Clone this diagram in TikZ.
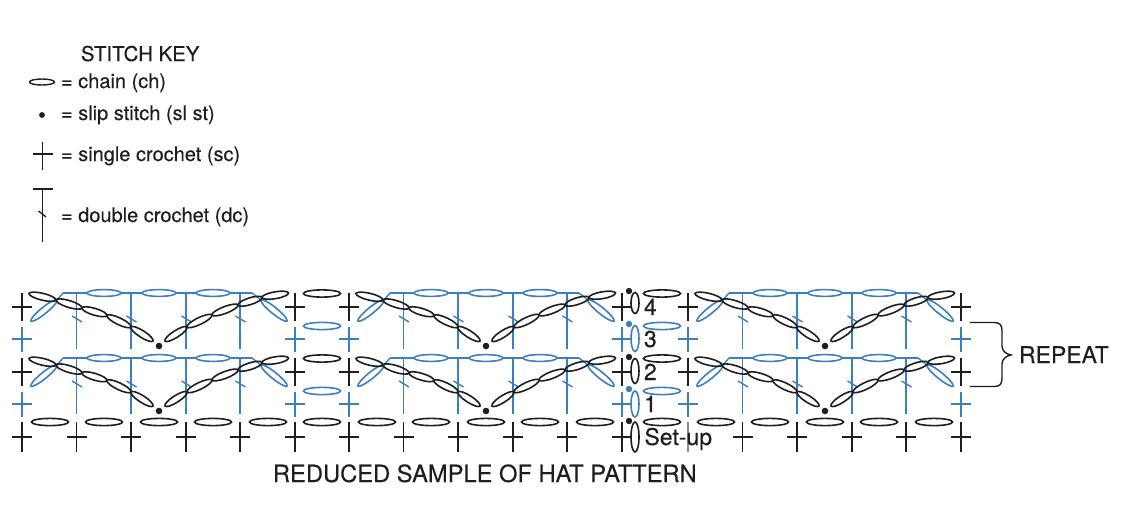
\documentclass[tikz,border=0pt]{standalone}
\usepackage{fontspec}
\setmainfont{TeX Gyre Heros}[UprightFeatures={FakeBold=0.25}]
\definecolor{stitchblue}{HTML}{3B7FBF}
\definecolor{stitchblack}{HTML}{1E1E1E}
\tikzset{
  ink/.style={line width=1.6pt,stitchblack},
  bluink/.style={line width=1.6pt,stitchblue},
  barink/.style={line width=1.4pt,stitchblack},
  barblue/.style={line width=1.4pt,stitchblue},
  greybar/.style={line width=1.2pt,black!45},
  lbl/.style={anchor=base west,inner sep=0pt,outer sep=0pt,text=stitchblack},
  keytext/.style={lbl,font=\fontsize{20}{24}\selectfont},
  headtext/.style={lbl,font=\fontsize{20.4}{24}\selectfont},
  digittext/.style={lbl,font=\fontsize{23}{27}\selectfont},
  rowtext/.style={lbl,font=\fontsize{23}{27}\selectfont},
  titletext/.style={lbl,font=\fontsize{23.7}{28}\selectfont},
}
% cross: style, x, y, half height
\newcommand{\crs}[4]{\draw[#1] (#2,#3-#4) -- (#2,#3+#4) (#2-10,#3) -- (#2+10,#3);}
% oval between two end points: style, x1,y1,x2,y2, half width
\newcommand{\lnk}[6]{%
  \pgfmathsetmacro{\angv}{atan2(-((#5)-(#3)),(#4)-(#2))}%
  \pgfmathsetmacro{\lenv}{0.5*veclen((#4)-(#2),(#5)-(#3))}%
  \draw[#1,shift={({((#2)+(#4))/2},{((#3)+(#5))/2})},rotate=\angv] (0,0) ellipse ({\lenv} and #6);}
% flat oval
\newcommand{\fov}[3]{\draw[#1] (#2,#3) ellipse (18.5 and 3.6);}
% upright oval
\newcommand{\vov}[4]{\draw[#1] (#2,#3) ellipse (4 and #4);}
% one fan motif, y offset #1 from the upper row
\newcommand{\fan}[1]{%
  \foreach \cx in {76.5,131,186,240}{%
    \draw[barblue] (\cx,293+#1) -- (\cx,349+#1);
    \draw[barblue] (\cx-4.5,316+#1) -- (\cx+5.5,322+#1);
  }
  \draw[barblue] (63,293+#1) -- (87,293+#1) (121,293+#1) -- (142,293+#1)
    (176,293+#1) -- (196,293+#1) (230,293+#1) -- (252,293+#1);
  \foreach \cx in {104,159,213}{\draw[bluink] (\cx,293+#1) ellipse (17 and 3.4);}
  \lnk{bluink}{31}{321+#1}{57}{300+#1}{3.2}
  \lnk{bluink}{287}{321+#1}{261}{300+#1}{3.2}
  \draw[barblue] (57,300+#1) -- (63,293+#1);
  \draw[barblue] (261,300+#1) -- (252,293+#1);
  \lnk{ink}{29}{293.5+#1}{56}{300+#1}{3.4}
  \lnk{ink}{56}{300+#1}{82}{308+#1}{3.4}
  \lnk{ink}{82}{308+#1}{107}{315.5+#1}{3.4}
  \lnk{ink}{107}{315.5+#1}{131}{327+#1}{3.4}
  \lnk{ink}{131}{327+#1}{153}{341+#1}{3.4}
  \lnk{ink}{165}{341+#1}{187}{327+#1}{3.4}
  \lnk{ink}{187}{327+#1}{212}{315+#1}{3.4}
  \lnk{ink}{212}{315+#1}{238}{305+#1}{3.4}
  \lnk{ink}{238}{305+#1}{262}{297.5+#1}{3.4}
  \lnk{ink}{262}{297.5+#1}{288.5}{293+#1}{3.4}
  \fill[stitchblack] (159,346+#1) circle (3.3);
}
% one complete section; #1 lists the crosses of its bottom row
\newcommand{\sect}[1]{%
  \fan{0}\fan{65}
  \foreach \cx in {22,295}{%
    \crs{barink}{\cx}{307}{14}
    \crs{barblue}{\cx}{339}{12.5}
    \crs{barink}{\cx}{372}{14}
    \crs{barblue}{\cx}{404}{12.5}
  }
  \foreach \cx in {#1}{\crs{barink}{\cx}{437}{15}}
  \foreach \cx in {50,104,159,213,268}{\fov{ink}{\cx}{422}}
}
\begin{document}
\begin{tikzpicture}[x=1pt,y=-1pt]
\useasboundingbox (0,0) rectangle (1134,530);
% key
\node[headtext] (keyhead) at (81,61) {STITCH KEY};
\draw[barink] (42,82) ellipse (12.5 and 3);
\node[keytext] (keych) at (61,88) {= chain (ch)};
\fill[stitchblack] (42,115) circle (2.9);
\node[keytext] (keysl) at (61,120) {= slip stitch (sl st)};
\draw[barink] (42.7,142) -- (42.7,170) (33,154) -- (53,154);
\node[keytext] (keysc) at (61,161) {= single crochet (sc)};
\draw[barink] (42.7,189) -- (42.7,242) (33,189) -- (53,189);
\draw[barink] (38.5,211) -- (46,217);
\node[keytext] (keydc) at (61,222) {= double crochet (dc)};
% sections
\begin{scope}\sect{22,76.5,131,186,240,295}\end{scope}
\begin{scope}[shift={(327,0)}]\sect{22,76.5,131,186,240,295}\end{scope}
\begin{scope}[shift={(666,0)}]\sect{76.5,131,186,240,295}\end{scope}
\draw[greybar] (688,422) -- (688,452);
% chains between the sections
\foreach \cx in {322,662}{%
  \fov{ink}{\cx}{293.5}
  \fov{bluink}{\cx}{326}
  \fov{ink}{\cx}{358.5}
  \fov{bluink}{\cx}{391}
  \fov{ink}{\cx}{422}
}
% turning column
\vov{ink}{635}{303}{10.5}
\vov{bluink}{635}{338.5}{13}
\vov{ink}{635}{371}{12.5}
\vov{bluink}{635}{404}{13}
\vov{ink}{635}{437}{15}
\fill[stitchblack] (629,291) circle (3.2);
\fill[stitchblue] (629,324) circle (3.2);
\fill[stitchblack] (629,357) circle (3.2);
\fill[stitchblue] (629,389) circle (3.2);
\fill[stitchblack] (629,421) circle (3.2);
% row labels
\node[digittext] (rowfour) at (644,315) {4};
\node[digittext] (rowthree) at (644,347) {3};
\node[digittext] (rowtwo) at (644,380) {2};
\node[digittext] (rowone) at (644,412) {1};
\node[rowtext] (rowset) at (644.5,445) {Set-up};
% repeat bracket
\draw[barink] (970,322.5) -- (994,322.5) .. controls (1000,322.5) and (1002,325) .. (1002,331)
  -- (1002,346) .. controls (1002,351) and (1006,354) .. (1011,355)
  .. controls (1006,356) and (1002,359) .. (1002,364)
  -- (1002,378) .. controls (1002,384) and (1000,386.5) .. (994,386.5) -- (970,386.5);
\node[rowtext] (repeatlabel) at (1019,363) {REPEAT};
\node[titletext] (title) at (273,482) {REDUCED SAMPLE OF HAT PATTERN};
\end{tikzpicture}
\end{document}
